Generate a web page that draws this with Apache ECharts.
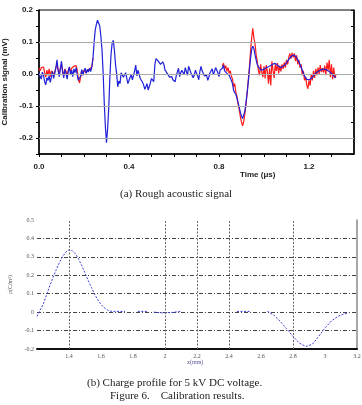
<!DOCTYPE html>
<html>
<head>
<meta charset="utf-8">
<script src="https://cdn.jsdelivr.net/npm/echarts@6/dist/echarts.min.js"></script>
<style>
html, body { margin: 0; padding: 0; background: #fff; }
#chart { width: 362px; height: 405px; }
</style>
</head>
<body>
<div id="chart"></div>
<script>
// (a) rough acoustic signal, one sample every 0.005 us
var timeStep = 0.005;
var blueStart = 0;
var blueSignal = [
	0.004, -0.008, -0.016, 0.006, -0.004, -0.024, -0.034, -0.012, -0.020, -0.006,
	-0.026, -0.010, 0.008, -0.014, 0.002, 0.020, 0.044, 0.010, -0.008, 0.016,
	0.040, 0.006, -0.012, 0.014, 0.002, -0.016, 0.008, 0.022, -0.002, 0.012,
	-0.008, 0.016, 0.004, 0.020, -0.004, -0.020, -0.026, -0.006, 0.014, -0.004,
	0.010, 0.018, 0.002, 0.014, 0.006, 0.018, 0.008, 0.023, 0.050, 0.100,
	0.138, 0.155, 0.168, 0.172, 0.150, 0.118, 0.075, 0.005, -0.090, -0.165,
	-0.215, -0.170, -0.105, -0.010, 0.060, 0.096, 0.105, 0.075, 0.030, 0.002,
	-0.040, -0.022, -0.030, 0.004, 0.008, -0.010, -0.016, 0.004, 0.008, -0.030,
	-0.034, -0.010, -0.002, -0.018, -0.020, 0.010, 0.028, -0.006, 0.012, 0.018,
	-0.014, -0.018, -0.026, -0.034, -0.048, -0.040, -0.030, -0.050, -0.040, -0.028,
	-0.014, -0.020, -0.024, 0.030, 0.048, 0.054, 0.040, 0.046, 0.030, 0.026,
	0.038, 0.030, 0.012, 0.006, 0.002, -0.004, -0.010, -0.014, -0.008, -0.018,
	-0.022, -0.024, -0.006, 0.006, 0.018, -0.008, 0.004, 0.012, 0.016, -0.002,
	0.020, 0.008, -0.004, 0.024, 0.014, 0.004, 0.010, -0.012, -0.004, 0.012,
	0.016, -0.006, -0.018, 0.008, 0.024, 0.010, 0.002, -0.006, -0.012, -0.004,
	-0.020, -0.010, 0.004, 0.010, 0.016, -0.002, 0.008, 0.020, 0.026, 0.004,
	-0.008, 0.012, 0.006, 0.018, 0.028, 0.010, 0.012, 0.002, 0.006, -0.004,
	-0.012, -0.008, -0.030, -0.052, -0.048, -0.064, -0.076, -0.090, -0.104, -0.120,
	-0.132, -0.139, -0.134, -0.116, -0.090, -0.058, -0.026, 0.012, 0.048, 0.076,
	0.087, 0.080, 0.060, 0.044, 0.030, 0.022, 0.016, 0.013, 0.012, 0.013,
	0.016, 0.018, 0.020, 0.021, 0.022, 0.024, 0.026, 0.029, 0.031, 0.033,
	0.033, 0.031, 0.028, 0.024, 0.020, 0.020, 0.022, 0.024, 0.027, 0.030,
	0.034, 0.040, 0.046, 0.050, 0.054, 0.057, 0.059, 0.059, 0.056, 0.051,
	0.046, 0.038, 0.030, 0.021, 0.012, 0.003, -0.006, -0.012, -0.017, -0.019,
	-0.018, -0.016, -0.014, -0.010, -0.006, -0.002, 0.002, 0.005, 0.008, 0.010,
	0.012, 0.014, 0.015, 0.015, 0.015, 0.014, 0.012, 0.010, 0.008, 0.005,
	0.002, -0.002, -0.006, -0.010, -0.012
];
// red raw trace: only where it shows from under the blue one
var redEarlyStart = 0;
var redEarly = [
	0.018, 0.010, 0.020, 0.014, 0.022, 0.004, -0.010, 0.012, -0.004, 0.016,
	-0.008, 0.010, 0.014, -0.002, 0.006, 0.020, 0.030, 0.012, 0.000, 0.018,
	0.030, 0.010, -0.004, 0.016, 0.008, -0.006, 0.012, 0.020, 0.010, 0.018,
	0.014, 0.024, 0.018, 0.026, 0.012, -0.016, -0.028, -0.010, 0.012, 0.002,
	0.010, 0.016, 0.004, 0.012, 0.008, 0.016, 0.010, 0.023, 0.050
];
var redLateStart = 0.815;
var redLate = [
	0.024, 0.034, 0.016, 0.026, 0.008, 0.020, 0.002, 0.010, -0.006, -0.016,
	-0.040, -0.030, -0.058, -0.070, -0.094, -0.112, -0.134, -0.150, -0.162, -0.148,
	-0.124, -0.096, -0.060, -0.020, 0.020, 0.070, 0.110, 0.143, 0.112, 0.096,
	0.060, 0.040, 0.012, -0.004, 0.030, 0.006, -0.010, 0.024, -0.014, 0.028,
	0.008, -0.030, 0.018, -0.036, 0.040, 0.012, -0.012, 0.030, 0.010, 0.034,
	0.002, 0.026, 0.008, 0.030, 0.016, 0.036, 0.020, 0.044, 0.030, 0.052,
	0.064, 0.048, 0.066, 0.052, 0.064, 0.040, 0.058, 0.030, 0.044, 0.020,
	0.030, -0.004, 0.010, -0.020, -0.010, -0.034, -0.046, -0.020, -0.036, 0.000,
	-0.020, 0.010, -0.012, 0.016, -0.004, 0.020, 0.000, 0.028, 0.006, 0.018,
	0.004, 0.026, -0.004, 0.036, 0.012, 0.044, -0.010, 0.030, -0.016, 0.020,
	-0.012, -0.004
];
var signalTicks = [0, 0.4, 0.8, 1.2];
var signalGrid = [0.1, 0, -0.1, -0.2];

// (b) charge profile (null = gap in the trace)
var profilePos = [1.20, 1.22, 1.24, 1.26, 1.28, 1.30, 1.32, 1.34, 1.36, 1.38,
	1.40, 1.42, 1.44, 1.46, 1.48, 1.50, 1.52, 1.54, 1.56, 1.58,
	1.60, 1.62, 1.64, 1.66, 1.70, 1.75, 1.79, 1.83, 1.89, 1.91,
	1.93, 1.98, 2.04, 2.05, 2.10, 2.28, 2.45, 2.53, 2.58, 2.64,
	2.68, 2.72, 2.76, 2.80, 2.84, 2.88, 2.92, 2.96, 3.00, 3.04,
	3.08, 3.12, 3.14];
var profileRho = [-0.023, 0.012, 0.046, 0.095, 0.143, 0.188, 0.230, 0.268, 0.302, 0.326,
	0.338, 0.334, 0.316, 0.288, 0.252, 0.212, 0.172, 0.134, 0.098, 0.066,
	0.042, 0.024, 0.012, 0.005, 0.004, 0.004, null, 0.004, 0.004, null,
	0.000, -0.004, -0.002, 0.003, 0.004, null, 0.004, 0.004, null, 0.004,
	-0.016, -0.050, -0.090, -0.131, -0.168, -0.186, -0.175, -0.132, -0.086, -0.048,
	-0.023, -0.010, -0.006];
var profileGridX = [1.4, 2, 2.2, 2.4, 2.8];

function toPairs(vals, start){
	return vals.map(function (v, i) {
		return [+(start + i * timeStep).toFixed(3), v];
	});
}

var myCharts = echarts.init(document.getElementById('chart'), null, {renderer: 'canvas'});

var boldLabel = {
	color: '#222',
	fontFamily: 'Liberation Sans',
	fontWeight: 'bold',
	fontSize: 8
};
var smallLabel = {
	color: '#555',
	fontFamily: 'Liberation Serif',
	fontSize: 6
};

var option = {
	animation: false,
	backgroundColor: '#fff',
	grid: [
	{
		left: 39, top: 10, right: 8, height: 144,
		outerBoundsMode: 'none',
		show: true, borderColor: '#000', borderWidth: 1
	},{
		left: 37, top: 220, right: 5, height: 129,
		outerBoundsMode: 'none'
	}
	],
	xAxis: [
	{
		gridIndex: 0,
		type: 'value',
		min: 0, max: 1.4, interval: 0.1,
		axisLine: {show: true, onZero: false, lineStyle: {color: '#000', width: 1.5}},
		axisTick: {show: true, inside: false, length: 3, lineStyle: {color: '#000'}},
		splitLine: {show: false},
		axisLabel: Object.assign({
			margin: 9,
			showMaxLabel: false,
			formatter: function (v) {
				var k = Math.round(v * 10);
				return signalTicks.indexOf(k / 10) >= 0 ? (k / 10).toFixed(1) : '';
			}
		}, boldLabel)
	},{
		gridIndex: 1,
		type: 'value',
		min: 1.2, max: 3.2, interval: 0.2,
		axisLine: {show: true, onZero: false, lineStyle: {color: '#111', width: 2}},
		axisTick: {show: false},
		splitLine: {show: false},
		axisLabel: Object.assign({margin: 4, showMinLabel: false}, smallLabel)
	}
	],
	yAxis: [
	{
		gridIndex: 0,
		type: 'value',
		min: -0.25, max: 0.2, interval: 0.05,
		name: 'Calibration signal (mV)',
		nameLocation: 'middle',
		nameGap: 28,
		nameTextStyle: boldLabel,
		axisLine: {show: true, onZero: false, lineStyle: {color: '#000', width: 1.5}},
		axisTick: {show: true, length: 3, lineStyle: {color: '#000'}},
		splitLine: {show: false},
		axisLabel: Object.assign({
			margin: 6,
			formatter: function (v) {
				var k = Math.round(v * 100);
				return k % 10 === 0 ? (k / 100).toFixed(1) : '';
			}
		}, boldLabel)
	},{
		gridIndex: 0,
		type: 'value',
		position: 'right',
		min: -0.25, max: 0.2, interval: 0.05,
		axisLine: {show: true, onZero: false, lineStyle: {color: '#000', width: 1.5}},
		axisTick: {show: true, inside: true, length: 3, lineStyle: {color: '#000'}},
		axisLabel: {show: false},
		splitLine: {show: false}
	},{
		gridIndex: 1,
		type: 'value',
		min: -0.2, max: 0.5, interval: 0.1,
		name: 'ρ(C/m³)',
		nameLocation: 'middle',
		nameGap: 13,
		nameTextStyle: smallLabel,
		axisLine: {show: false, onZero: false},
		axisTick: {show: false},
		splitLine: {
			show: true,
			showMinLine: false,
			showMaxLine: false,
			lineStyle: {color: '#444', width: 1, type: [4, 2, 1, 2]}
		},
		axisLabel: Object.assign({margin: 3}, smallLabel)
	},{
		gridIndex: 1,
		type: 'value',
		position: 'right',
		min: -0.2, max: 0.5, interval: 0.1,
		axisLine: {show: true, onZero: false, lineStyle: {color: '#888', width: 1.5}},
		axisTick: {show: false},
		axisLabel: {show: false},
		splitLine: {show: false}
	}
	],
	series: [
	{
		name: 'grid-a',
		type: 'line',
		xAxisIndex: 0, yAxisIndex: 0,
		data: [],
		silent: true,
		z: 1,
		markLine: {
			silent: true,
			symbol: ['none', 'none'],
			label: {show: false},
			lineStyle: {color: '#a8a8a8', width: 1, type: 'solid'},
			data: signalGrid.map(function (v) { return {yAxis: v}; })
		}
	},{
		name: 'raw-early',
		type: 'line',
		xAxisIndex: 0, yAxisIndex: 0,
		showSymbol: false,
		z: 3,
		lineStyle: {color: '#ff1a1a', width: 1.2},
		data: toPairs(redEarly, redEarlyStart)
	},{
		name: 'raw-late',
		type: 'line',
		xAxisIndex: 0, yAxisIndex: 0,
		showSymbol: false,
		z: 3,
		lineStyle: {color: '#ff1a1a', width: 1.2},
		data: toPairs(redLate, redLateStart)
	},{
		name: 'filtered',
		type: 'line',
		xAxisIndex: 0, yAxisIndex: 0,
		showSymbol: false,
		z: 4,
		lineStyle: {color: '#2020d8', width: 1.2},
		data: toPairs(blueSignal, blueStart)
	},{
		name: 'profile',
		type: 'line',
		xAxisIndex: 1, yAxisIndex: 2,
		showSymbol: false,
		connectNulls: false,
		z: 4,
		lineStyle: {color: '#3a3ad8', width: 1, type: [2, 1.5]},
		data: profilePos.map(function (x, i) { return [x, profileRho[i]]; }),
		markLine: {
			silent: true,
			symbol: ['none', 'none'],
			label: {show: false},
			lineStyle: {color: '#666', width: 1, type: [2, 1.5]},
			data: profileGridX.map(function (v) { return {xAxis: v}; })
		}
	}
	],
	graphic: [
	{
		type: 'text', left: 240, top: 171,
		style: {text: 'Time (μs)', font: 'bold 8px "Liberation Sans"', fill: '#222'}
	},{
		type: 'text', left: 120, top: 189,
		style: {text: '(a) Rough acoustic signal', font: '11px "Liberation Serif"', fill: '#222'}
	},{
		type: 'text', left: 187, top: 359,
		style: {text: 'x(mm)', font: '6px "Liberation Serif"', fill: '#5a5a9a'}
	},{
		type: 'text', left: 87, top: 378,
		style: {text: '(b) Charge profile for 5 kV DC voltage.', font: '11px "Liberation Serif"', fill: '#222'}
	},{
		type: 'text', left: 110, top: 391,
		style: {text: 'Figure 6.    Calibration results.', font: '11px "Liberation Serif"', fill: '#222'}
	}
	]
};
myCharts.setOption(option);
</script>
</body>
</html>
